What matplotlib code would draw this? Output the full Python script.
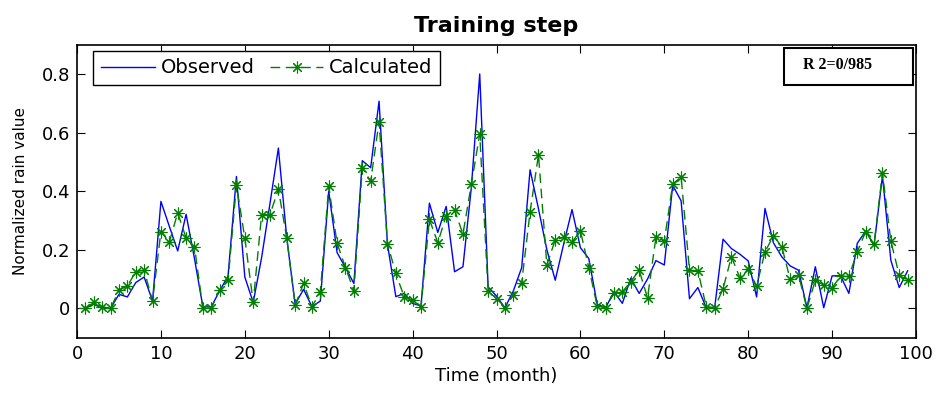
import matplotlib
matplotlib.use('Agg')
import matplotlib.pyplot as plt
from matplotlib.patches import Rectangle

# months 1..99
months = list(range(1, 100))

observed = [
    0.0, 0.014, 0.0, 0.0, 0.048, 0.039, 0.088, 0.107, 0.025, 0.365,
    0.28, 0.196, 0.321, 0.17, 0.005, 0.005, 0.06, 0.11, 0.45, 0.107,
    0.02, 0.173, 0.358, 0.547, 0.24, 0.014, 0.065, 0.006, 0.025, 0.4,
    0.19, 0.139, 0.085, 0.504, 0.48, 0.707, 0.219, 0.04, 0.051, 0.017,
    0.008, 0.359, 0.259, 0.348, 0.125, 0.142, 0.413, 0.8, 0.073, 0.042,
    0.002, 0.059, 0.139, 0.473, 0.34, 0.2, 0.096, 0.219, 0.337, 0.207,
    0.17, 0.014, 0.002, 0.057, 0.017, 0.103, 0.051, 0.10, 0.163, 0.148,
    0.42, 0.367, 0.033, 0.071, 0.002, 0.002, 0.236, 0.204, 0.185, 0.162,
    0.039, 0.341, 0.224, 0.176, 0.145, 0.13, 0.002, 0.142, 0.002, 0.111,
    0.111, 0.051, 0.222, 0.264, 0.215, 0.452, 0.164, 0.071, 0.128,
]

calculated = [
    0.0, 0.02, 0.005, 0.0, 0.062, 0.076, 0.125, 0.13, 0.025, 0.262,
    0.226, 0.326, 0.24, 0.21, 0.0, 0.0, 0.064, 0.096, 0.42, 0.24,
    0.02, 0.32, 0.32, 0.407, 0.24, 0.011, 0.085, 0.006, 0.055, 0.416,
    0.222, 0.139, 0.06, 0.48, 0.434, 0.637, 0.221, 0.119, 0.039, 0.028,
    0.006, 0.304, 0.224, 0.316, 0.336, 0.253, 0.424, 0.595, 0.059, 0.033,
    0.0, 0.046, 0.088, 0.329, 0.524, 0.148, 0.234, 0.242, 0.227, 0.264,
    0.139, 0.008, 0.002, 0.051, 0.057, 0.091, 0.13, 0.036, 0.242, 0.23,
    0.424, 0.449, 0.13, 0.128, 0.006, 0.002, 0.067, 0.176, 0.105, 0.134,
    0.076, 0.193, 0.247, 0.211, 0.099, 0.113, 0.0, 0.096, 0.079, 0.071,
    0.109, 0.109, 0.193, 0.262, 0.219, 0.462, 0.23, 0.113, 0.096,
]

xticks = list(range(0, 101, 10))
yticks = [0, 0.2, 0.4, 0.6, 0.8]
ytick_labels = ['0', '0.2', '0.4', '0.6', '0.8']

plt.rcParams['font.family'] = ['DejaVu Sans']

fig = plt.figure(figsize=(9.37, 3.94), dpi=100)
ax = fig.add_axes([0.0822, 0.143, 0.8954, 0.7437])

ax.plot(months, observed, color='#0000ff', lw=1.0, label='Observed')
ax.plot(months, calculated, color='#008000', lw=1.0, ls=(0, (7, 4)),
        marker=(8, 2, 0), markersize=8.5, markeredgewidth=0.8,
        label='Calculated')

ax.set_xlim(0, 100)
ax.set_ylim(-0.1, 0.9)
ax.set_xticks(xticks)
ax.set_yticks(yticks)
ax.set_yticklabels(ytick_labels)
ax.tick_params(direction='in', top=True, right=True, length=6, width=0.8,
               labelsize=13, pad=5)
for s in ax.spines.values():
    s.set_linewidth(1.2)

ax.set_title('Training step', fontsize=16, fontweight='bold', pad=9)
ax.set_xlabel('Time (month)', fontsize=13, labelpad=3)
ax.set_ylabel('Normalized rain value', fontsize=11, labelpad=10)

leg = ax.legend(loc='upper left', ncol=2, fontsize=14, handlelength=2.75,
                columnspacing=0.8, handletextpad=0.3, borderpad=0.4,
                borderaxespad=0, fancybox=False, framealpha=1,
                edgecolor='black', bbox_to_anchor=(0.0194, 0.9795))
leg.get_frame().set_linewidth(1.0)

# R^2 annotation box
ax.add_patch(Rectangle((0.843, 0.8625), 0.1534, 0.1265, transform=ax.transAxes,
                       fc='white', ec='black', lw=1.5, zorder=5))
ax.text(0.907, 0.931, 'R 2=0/985', transform=ax.transAxes, ha='center',
        va='center', fontsize=11.5, fontweight='bold',
        family='Liberation Serif', zorder=6)

fig.savefig('out.png', dpi=100)
